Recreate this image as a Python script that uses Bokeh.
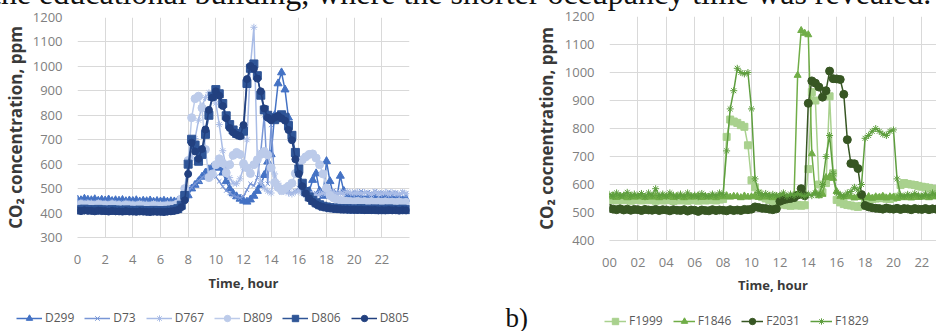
from bokeh.plotting import figure
from bokeh.layouts import column, row
from bokeh.models import FixedTicker, Div, Range1d, Legend, LegendItem, Label
from bokeh.embed import file_html
from bokeh.resources import INLINE

HOURS = [i * 0.25 for i in range(96)]

# left chart (blue series)
D299 = [455, 452, 458, 454, 452, 456, 450, 454, 451, 455, 449, 452, 450, 453, 448, 451,
        449, 452, 447, 450, 448, 451, 446, 449, 447, 450, 446, 448, 447, 449, 452, 458,
        472, 500, 515, 530, 548, 565, 578, 588, 592, 585, 565, 530, 500, 480, 468, 458,
        450, 446, 455, 470, 490, 515, 555, 610, 640, 800, 930, 975, 905, 790, 705, 640,
        570, 510, 480, 490, 535, 562, 490, 470, 612, 530, 475, 462, 552, 490, 468, 460,
        462, 458, 464, 456, 460, 457, 462, 455, 458, 461, 455, 459, 456, 460, 454, 457]
D73 = [446, 443, 448, 444, 445, 442, 447, 443, 444, 441, 446, 442, 443, 440, 445, 441,
       442, 440, 444, 441, 441, 439, 443, 440, 440, 438, 442, 440, 441, 444, 452, 468,
       488, 505, 520, 532, 545, 556, 565, 560, 548, 530, 508, 492, 482, 472, 466, 462,
       468, 495, 520, 512, 545, 650, 800, 520, 760, 530, 505, 485, 498, 488, 480, 490,
       502, 485, 472, 480, 475, 482, 492, 480, 488, 480, 492, 484, 482, 490, 486, 480,
       488, 482, 490, 484, 486, 480, 489, 483, 485, 479, 488, 482, 484, 478, 486, 480]
D767 = [440, 444, 438, 442, 441, 437, 443, 439, 440, 436, 442, 438, 439, 435, 441, 437,
        438, 435, 440, 436, 437, 434, 439, 436, 436, 434, 438, 436, 438, 444, 462, 500,
        558, 625, 705, 780, 838, 872, 892, 882, 850, 762, 655, 585, 545, 522, 520, 540,
        585, 700, 1000, 1160, 620, 525, 502, 490, 482, 560, 522, 500, 490, 482, 478, 486,
        490, 482, 476, 480, 478, 470, 476, 482, 480, 490, 484, 478, 484, 478, 488, 482,
        480, 486, 478, 484, 482, 476, 486, 480, 479, 485, 477, 483, 481, 476, 484, 479]
D809 = [432, 435, 430, 434, 433, 430, 435, 431, 432, 429, 434, 430, 431, 428, 433, 430,
        430, 428, 432, 429, 429, 427, 431, 428, 429, 427, 430, 429, 431, 438, 458, 500,
        615, 790, 868, 878, 830, 660, 545, 560, 598, 622, 604, 565, 598, 636, 648, 640,
        602, 585, 562, 598, 618, 640, 652, 638, 585, 525, 505, 492, 500, 510, 522, 562,
        598, 618, 630, 640, 642, 625, 598, 560, 502, 472, 462, 456, 452, 450, 448, 447,
        446, 448, 445, 447, 445, 447, 444, 446, 444, 446, 443, 445, 443, 445, 442, 444]
D806 = [415, 413, 416, 414, 414, 412, 415, 413, 413, 411, 414, 412, 412, 410, 413, 411,
        411, 410, 412, 410, 410, 409, 411, 410, 410, 409, 411, 412, 414, 418, 432, 472,
        600, 702, 678, 612, 640, 722, 800, 878, 905, 888, 848, 798, 762, 740, 726, 720,
        735, 930, 992, 1010, 962, 882, 822, 800, 790, 782, 790, 802, 792, 758, 718, 648,
        580, 522, 488, 466, 452, 442, 434, 428, 425, 422, 421, 419, 418, 417, 418, 416,
        417, 416, 418, 415, 416, 415, 417, 414, 416, 414, 417, 415, 415, 414, 416, 414]
D805 = [410, 408, 411, 409, 409, 407, 410, 408, 408, 406, 409, 407, 407, 406, 408, 406,
        406, 405, 407, 406, 405, 404, 406, 405, 405, 404, 406, 407, 409, 413, 424, 452,
        560, 688, 652, 622, 662, 742, 822, 872, 898, 880, 838, 788, 748, 730, 720, 714,
        760, 948, 1002, 990, 950, 898, 828, 790, 780, 790, 798, 788, 778, 740, 698, 620,
        560, 510, 480, 460, 446, 436, 429, 425, 422, 420, 418, 417, 416, 415, 415, 414,
        414, 413, 414, 412, 413, 412, 413, 411, 412, 411, 413, 411, 412, 410, 412, 411]

# right chart (green series)
F1999 = [545, 548, 543, 546, 544, 547, 542, 545, 546, 543, 548, 544, 545, 542, 547, 543,
         544, 546, 541, 545, 543, 546, 542, 544, 545, 542, 547, 543, 544, 547, 543, 546,
         548, 770, 832, 825, 820, 812, 806, 740, 615, 590, 568, 555, 550, 545, 540, 536,
         532, 528, 526, 524, 525, 527, 524, 526, 655, 930, 900, 600, 572, 605, 915, 640,
         545, 536, 530, 527, 525, 522, 520, 523, 540, 545, 548, 550, 551, 553, 549, 548,
         552, 556, 598, 605, 602, 600, 598, 595, 592, 590, 588, 585, 583, 580, 578, 576]
F1846 = [556, 560, 554, 558, 557, 553, 559, 555, 556, 560, 554, 557, 555, 559, 553, 557,
         556, 560, 554, 558, 557, 553, 559, 555, 556, 560, 554, 557, 555, 559, 553, 558,
         556, 560, 555, 558, 557, 553, 559, 555, 556, 560, 554, 557, 555, 559, 553, 557,
         556, 560, 554, 558, 560, 990, 1150, 1140, 1135, 710, 572, 560, 565, 625, 628, 622,
         575, 558, 555, 560, 556, 552, 558, 554, 553, 557, 551, 556, 554, 558, 552, 556,
         555, 551, 557, 553, 556, 552, 558, 554, 555, 559, 553, 557, 556, 552, 558, 554]
F2031 = [515, 512, 510, 513, 509, 512, 508, 511, 510, 507, 511, 509, 508, 511, 507, 510,
         509, 506, 510, 508, 507, 510, 505, 509, 508, 504, 509, 507, 506, 510, 507, 509,
         508, 506, 510, 507, 509, 507, 511, 510, 512, 520, 518, 515, 514, 512, 510, 513,
         540, 545, 548, 550, 553, 562, 585, 560, 890, 970, 962, 948, 912, 935, 1005, 978,
         977, 975, 922, 760, 675, 674, 657, 564, 525, 520, 517, 515, 514, 512, 516, 513,
         512, 515, 511, 514, 513, 510, 514, 512, 511, 514, 510, 513, 512, 509, 513, 511]
F1829 = [565, 558, 570, 560, 562, 572, 558, 566, 560, 568, 556, 570, 562, 585, 560, 566,
         558, 570, 562, 556, 566, 558, 570, 560, 562, 556, 568, 560, 558, 566, 560, 570,
         565, 720, 870, 935, 1015, 1000, 995, 1000, 870, 620, 572, 562, 568, 558, 565, 560,
         562, 570, 558, 566, 560, 568, 562, 558, 566, 560, 570, 562, 600, 700, 775, 640,
         572, 565, 558, 570, 575, 590, 580, 600, 765, 775, 790, 800, 790, 780, 775, 790,
         795, 620, 562, 558, 565, 560, 568, 562, 558, 566, 560, 570, 562, 558, 566, 560]

LEFT_NAMES = ["D299", "D73", "D767", "D809", "D806", "D805"]
LEFT_VALUES = [D299, D73, D767, D809, D806, D805]
RIGHT_NAMES = ["F1999", "F1846", "F2031", "F1829"]
RIGHT_VALUES = [F1999, F1846, F2031, F1829]

X_TICKS = list(range(0, 24, 2))
LEFT_X_LABELS = ["0", "2", "4", "6", "8", "10", "12", "14", "16", "18", "20", "22"]
RIGHT_X_LABELS = ["00", "02", "04", "06", "08", "10", "12", "14", "16", "18", "20", "22"]
LEFT_Y_TICKS = list(range(300, 1201, 100))
RIGHT_Y_TICKS = list(range(400, 1201, 100))

TOP_TEXT = "the educational building, where the shorter occupancy time was revealed."
PANEL_TAG = "b)"

# ---------------- styles ----------------
LEFT_STYLE = [("triangle", "#4472c4", 8), ("x", "#7896d6", 6), ("asterisk", "#a9bce6", 7),
              ("circle", "#bccbea", 8), ("square", "#2f5597", 8), ("circle", "#22407f", 7)]
RIGHT_STYLE = [("square", "#a9d18e", 7), ("triangle", "#70ad47", 7),
               ("circle", "#375623", 8), ("asterisk", "#5e9e3e", 7)]

TICK_FONT = "Open Sans"


def make_fig(width, height, mb_left, mb_right, mb_top, mb_bottom, xr, yr):
    p = figure(width=width, height=height, output_backend="svg", toolbar_location=None,
               x_range=Range1d(*xr), y_range=Range1d(*yr),
               min_border_left=mb_left, min_border_right=mb_right,
               min_border_top=mb_top, min_border_bottom=mb_bottom,
               frame_align=False)
    p.outline_line_color = None
    p.background_fill_color = "white"
    p.border_fill_color = None
    return p


def style_axes(p, xlabels, yticks, ylabel, y_lab_standoff, x_lab_standoff, x_std):
    p.xaxis.ticker = FixedTicker(ticks=X_TICKS)
    p.xaxis.major_label_overrides = {t: lab for t, lab in zip(X_TICKS, xlabels)}
    p.yaxis.ticker = FixedTicker(ticks=yticks)
    p.xgrid.ticker = FixedTicker(ticks=X_TICKS)
    p.ygrid.ticker = FixedTicker(ticks=yticks)
    p.grid.grid_line_color = "#d9d9d9"
    p.grid.grid_line_width = 1
    for ax in (p.xaxis[0], p.yaxis[0]):
        ax.major_tick_line_color = None
        ax.minor_tick_line_color = None
        ax.major_tick_out = 0
        ax.major_tick_in = 0
        ax.major_label_text_font = TICK_FONT
        ax.major_label_text_font_size = "13px"
        ax.major_label_text_color = "#808080"
        ax.axis_label_text_font = TICK_FONT
        ax.axis_label_text_font_style = "bold"
        ax.axis_label_text_color = "#3a3a3a"
    p.yaxis.axis_line_color = None
    p.xaxis.axis_line_color = "#d9d9d9"
    p.xaxis.axis_label = "Time, hour"
    p.xaxis.axis_label_text_font_size = "13px"
    p.xaxis.major_label_standoff = x_std
    p.xaxis.axis_label_standoff = x_lab_standoff
    p.yaxis.axis_label = ylabel
    p.yaxis.axis_label_text_font_size = "17px"
    p.yaxis.major_label_standoff = 15
    p.yaxis.axis_label_standoff = y_lab_standoff


def add_series(p, names, values, styles):
    for name, vals, (marker, color, size) in zip(names, values, styles):
        p.line(HOURS, vals, line_color=color, line_width=1.5)
        p.scatter(HOURS, vals, marker=marker, size=size, fill_color=color,
                  line_color=color, line_width=1)


def add_legend(strip, names, values, styles, loc, glyph_w):
    # renderers of the real series; they fall outside the strip's 0..1 ranges,
    # so only their legend entries are seen
    items = []
    for name, vals, (marker, color, size) in zip(names, values, styles):
        r1 = strip.line(HOURS, vals, line_color=color, line_width=1.5)
        r2 = strip.scatter(HOURS, vals, marker=marker, size=size, fill_color=color,
                           line_color=color, line_width=1)
        items.append(LegendItem(label=name, renderers=[r1, r2]))
    lg = Legend(items=items, location=loc, orientation="horizontal",
                glyph_width=glyph_w, glyph_height=16, label_height=16,
                label_standoff=3, spacing=10, padding=0, margin=0,
                border_line_color=None, background_fill_alpha=0,
                label_text_font=TICK_FONT, label_text_font_size="12px",
                label_text_color="#595959")
    strip.add_layout(lg, "center")


# ---------------- left chart: page x 8..470, frame 78..417, y 17..237 ----------------
left = make_fig(462, 300, 70, 53, 17, 63, (0, 24), (300, 1200))
add_series(left, LEFT_NAMES, LEFT_VALUES, LEFT_STYLE)
style_axes(left, LEFT_X_LABELS, LEFT_Y_TICKS, "CO\u2082 concentration, ppm", 3, 7, 17)

# ---------------- right chart: page x 470..944, frame 617..944, y 16..240 ----------------
right = make_fig(474, 300, 147, 0, 16, 60, (0, 23.03), (400, 1200))
add_series(right, RIGHT_NAMES, RIGHT_VALUES, RIGHT_STYLE)
style_axes(right, RIGHT_X_LABELS, RIGHT_Y_TICKS, "CO\u2082 cocnentration, ppm", 4, 6, 17)

# ---------------- bottom strip with both legends and the panel tag: y 300..331 ----------------
strip = figure(width=936, height=31, output_backend="svg", toolbar_location=None,
               x_axis_type=None, y_axis_type=None, x_range=Range1d(0, 1),
               y_range=Range1d(0, 1), min_border=0, min_border_left=0,
               min_border_right=0, min_border_top=0, min_border_bottom=0,
               margin=(0, 0, -8, 0), frame_align=False)
strip.outline_line_color = None
strip.border_fill_color = None
strip.background_fill_color = None
add_legend(strip, LEFT_NAMES, LEFT_VALUES, LEFT_STYLE, (16, 5), 26)
add_legend(strip, RIGHT_NAMES, RIGHT_VALUES, RIGHT_STYLE, (604, 2), 22)
strip.add_layout(Label(x=505, y=14, x_units="screen", y_units="screen", text=PANEL_TAG,
                       text_font="Liberation Serif", text_font_size="27px",
                       text_color="#111111", text_baseline="middle"))

# ---------------- top text line (cut off by the crop) ----------------
top = Div(text='<div class="toptext">' + TOP_TEXT + '</div>', width=936, height=8,
          margin=(-8, 0, 0, -8),
          stylesheets=[".toptext{font-family:'Liberation Serif','Times New Roman',serif;"
                       "font-size:32px;line-height:40px;white-space:nowrap;"
                       "margin-top:-25px;color:#111111;}"])

layout = column(top, row(left, right), strip)

with open("out.html", "w") as f:
    f.write(file_html(layout, INLINE))
